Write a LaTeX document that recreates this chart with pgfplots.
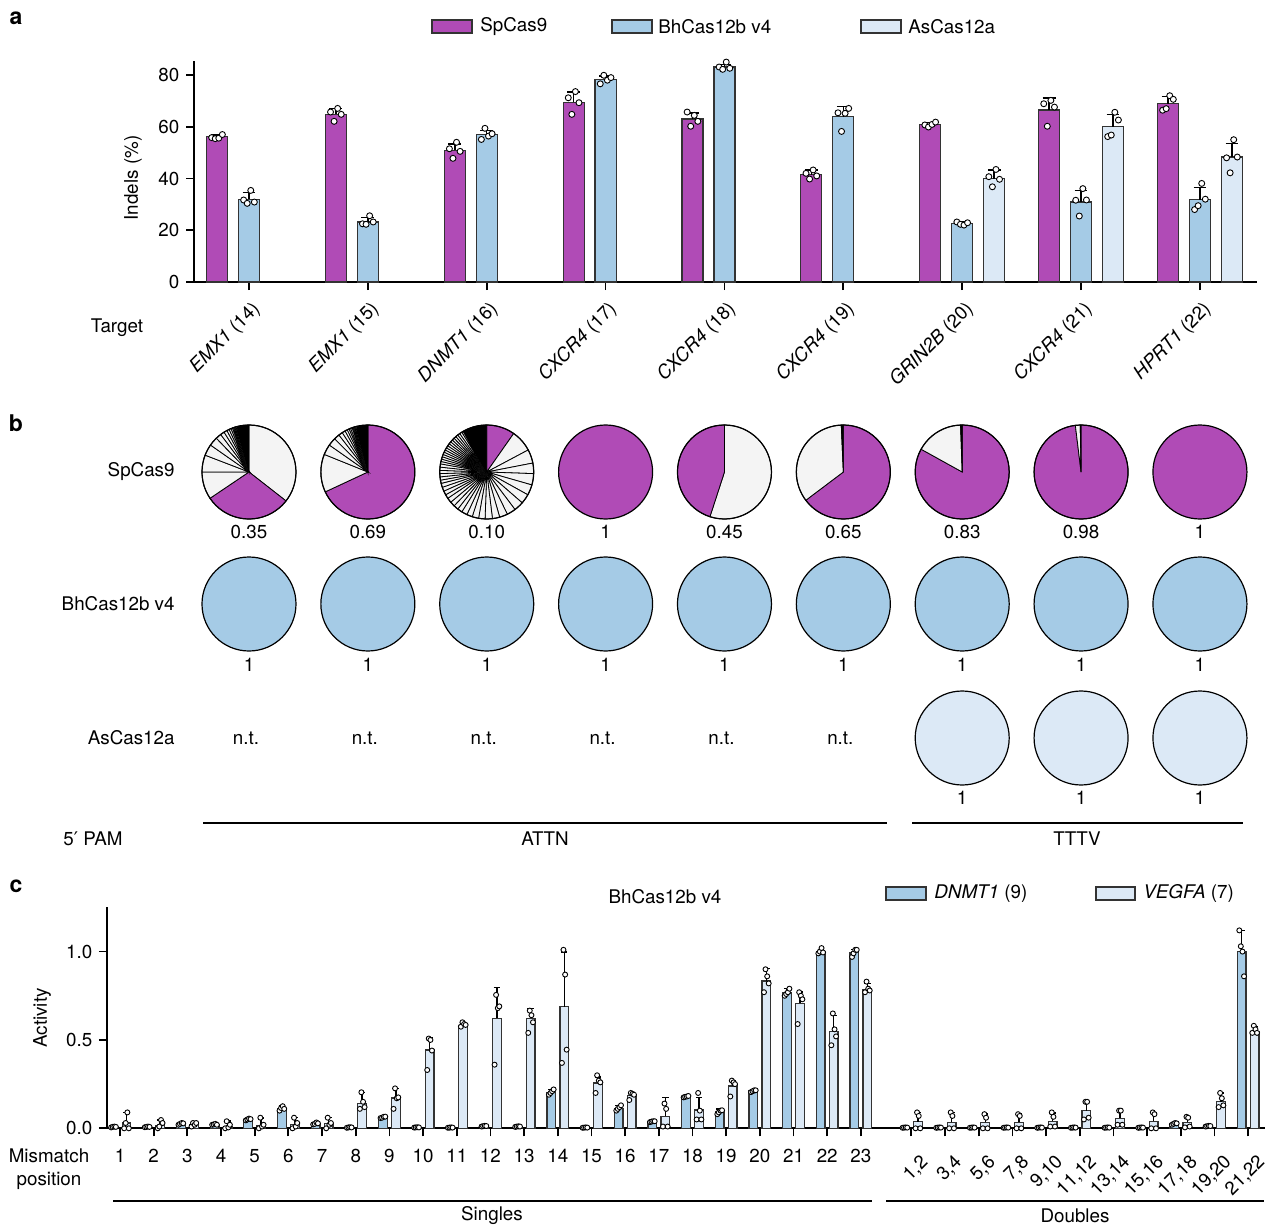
\documentclass[border=0pt]{standalone}
\usepackage{fontspec}
\setmainfont{TeX Gyre Heros}
\newfontfamily\djv{DejaVu Sans}
\usepackage{pgfplots}
\pgfplotsset{compat=1.18}
\usepackage{pgfplotstable}

\definecolor{magc}{HTML}{B04BB6}
\definecolor{bluec}{HTML}{A5CBE6}
\definecolor{lightc}{HTML}{DCE9F6}
\definecolor{greyc}{HTML}{F4F4F4}

% ---------- panel a data ----------
\pgfplotstableread{
g S Se B Be
0 56.2 0.6 32.0 2.5
1 64.8 2.3 23.2 1.7
2 50.9 2.4 57.1 1.5
3 69.4 4.0 78.2 1.4
4 63.0 2.4 83.1 1.0
5 41.4 1.8 63.9 3.9
6 60.9 0.7 22.7 0.5
7 66.5 4.6 30.9 4.5
8 68.9 2.8 31.8 4.7
}\tabA
\pgfplotstableread{
g A Ae
6 39.9 3.4
7 60.0 4.8
8 48.3 5.3
}\tabAs
\pgfplotstableread{
g v1 v2 v3 v4
0 55.8 55.4 55.6 57.0
1 65.7 62.1 67.1 64.8
2 51.5 47.8 54.0 50.5
3 71.2 64.8 73.6 69.3
4 65.7 60.2 64.4 62.1
5 42.0 39.8 43.3 41.0
6 60.7 59.9 60.9 61.8
7 68.9 60.2 70.2 67.6
8 66.4 67.0 72.0 70.6
}\dotS
\pgfplotstableread{
g v1 v2 v3 v4
0 31.7 30.4 35.4 30.9
1 22.5 22.3 25.6 23.2
2 55.1 59.4 56.4 57.3
3 76.6 79.9 78.0 79.0
4 83.1 82.2 85.0 82.6
5 65.4 58.2 65.2 67.1
6 23.2 22.3 22.0 22.9
7 31.6 25.5 36.1 31.7
8 28.0 29.5 38.1 32.0
}\dotB
\pgfplotstableread{
g v1 v2 v3 v4
6 40.7 36.8 43.5 39.7
7 56.2 56.8 65.6 62.6
8 48.0 42.2 55.0 48.3
}\dotA

% ---------- panel c data ----------
\pgfplotstableread{
x D De V Ve
1 0.008 0.003 0.030 0.060
2 0.008 0.003 0.015 0.032
3 0.025 0.005 0.022 0.010
4 0.022 0.005 0.012 0.030
5 0.050 0.006 0.017 0.040
6 0.113 0.015 0.022 0.040
7 0.027 0.006 0.025 0.035
8 0.005 0.002 0.141 0.063
9 0.062 0.005 0.171 0.055
10 0.005 0.002 0.443 0.070
11 0.004 0.002 0.579 0.019
12 0.012 0.003 0.623 0.175
13 0.010 0.002 0.623 0.056
14 0.204 0.015 0.688 0.310
15 0.004 0.002 0.256 0.034
16 0.113 0.017 0.185 0.015
17 0.038 0.004 0.068 0.107
18 0.179 0.006 0.104 0.071
19 0.092 0.016 0.239 0.029
20 0.211 0.006 0.834 0.069
21 0.766 0.024 0.707 0.063
22 1.000 0.012 0.549 0.088
23 0.994 0.018 0.783 0.037
24.5 0.004 0.001 0.037 0.053
25.5 0.004 0.001 0.034 0.056
26.5 0.005 0.001 0.034 0.046
27.5 0.004 0.001 0.034 0.046
28.5 0.004 0.001 0.040 0.048
29.5 0.004 0.001 0.100 0.052
30.5 0.004 0.001 0.057 0.043
31.5 0.004 0.001 0.040 0.050
32.5 0.025 0.004 0.034 0.031
33.5 0.012 0.002 0.150 0.050
34.5 1.000 0.120 0.547 0.028
}\tabC
\pgfplotstableread{
x v1 v2 v3 v4
1 0.005 0.008 0.010 0.008
2 0.006 0.008 0.010 0.008
3 0.020 0.025 0.030 0.028
4 0.020 0.022 0.025 0.020
5 0.045 0.050 0.055 0.052
6 0.100 0.115 0.125 0.110
7 0.022 0.025 0.033 0.028
8 0.003 0.005 0.006 0.005
9 0.058 0.060 0.065 0.066
10 0.004 0.005 0.006 0.005
11 0.003 0.004 0.005 0.004
12 0.010 0.012 0.014 0.013
13 0.008 0.010 0.011 0.010
14 0.190 0.200 0.210 0.220
15 0.003 0.004 0.005 0.004
16 0.100 0.110 0.120 0.130
17 0.035 0.038 0.040 0.040
18 0.175 0.178 0.180 0.183
19 0.080 0.090 0.100 0.102
20 0.205 0.210 0.215 0.215
21 0.750 0.760 0.770 0.790
22 0.990 1.000 1.020 0.995
23 0.970 0.990 1.010 1.010
24.5 0.003 0.004 0.005 0.004
25.5 0.003 0.004 0.005 0.004
26.5 0.003 0.004 0.005 0.004
27.5 0.003 0.004 0.005 0.004
28.5 0.003 0.004 0.005 0.004
29.5 0.003 0.004 0.005 0.004
30.5 0.003 0.004 0.005 0.004
31.5 0.003 0.004 0.005 0.004
32.5 0.020 0.025 0.030 0.028
33.5 0.010 0.012 0.014 0.013
34.5 1.120 1.030 1.000 0.860
}\dotD
\pgfplotstableread{
x v1 v2 v3 v4
1 0.000 0.030 0.090 0.000
2 0.000 0.010 0.047 0.030
3 0.010 0.030 0.020 0.030
4 0.000 0.040 0.005 0.020
5 0.000 0.060 0.010 0.020
6 0.000 0.060 0.010 0.030
7 0.000 0.060 0.020 0.030
8 0.110 0.204 0.150 0.120
9 0.110 0.226 0.170 0.175
10 0.330 0.508 0.500 0.440
11 0.575 0.600 0.590 0.585
12 0.360 0.755 0.680 0.690
13 0.540 0.666 0.640 0.600
14 0.370 1.010 0.870 0.445
15 0.200 0.300 0.270 0.260
16 0.160 0.200 0.195 0.190
17 0.010 0.140 0.110 0.010
18 0.050 0.200 0.100 0.050
19 0.180 0.270 0.260 0.250
20 0.770 0.900 0.860 0.820
21 0.590 0.770 0.750 0.730
22 0.470 0.650 0.560 0.520
23 0.770 0.830 0.790 0.780
24.5 0.000 0.090 0.070 0.000
25.5 0.000 0.090 0.070 0.000
26.5 0.000 0.080 0.060 0.000
27.5 0.000 0.080 0.070 0.000
28.5 0.010 0.090 0.065 0.010
29.5 0.050 0.150 0.150 0.060
30.5 0.020 0.100 0.100 0.020
31.5 0.000 0.090 0.080 0.000
32.5 0.005 0.065 0.060 0.010
33.5 0.120 0.200 0.170 0.130
34.5 0.540 0.580 0.560 0.540
}\dotV

\pgfplotsset{
  barbase/.style={ybar, bar shift=0, line width=0.6pt, draw=black!80,
    error bars/y dir=plus, error bars/y explicit,
    error bars/error bar style={line width=0.75pt, black, solid},
    error bars/error mark options={rotate=90, line width=0.75pt, black, mark size=#1}},
  dotmk/.style={only marks, mark=*, mark size=#1,
    mark options={fill=white, draw=black, line width=0.45pt, solid}},
  panelax/.style={scale only axis, anchor=south west, axis lines=left,
    axis line style={-, line width=0.9pt, black},
    tick style={line width=0.9pt, black},
    tick align=outside, major tick length=4pt, clip=false,
    /pgf/number format/assume math mode=true},
}

\newcommand\R{23.5pt}
\newcommand\slices[4]{%
  \foreach \b [remember=\b as \a (initially #2)] in {#3} {
    \filldraw[fill=#4, draw=black, line width=0.4pt] (#1) -- ++({90-\a}:\R)
      arc[start angle={90-\a}, end angle={90-\b}, radius=\R] -- cycle;
  }}

\begin{document}
\fontsize{9.4pt}{11.3pt}\selectfont
\begin{tikzpicture}
\useasboundingbox (0,0) rectangle (633pt,-613pt);

% ================= panel a =================
\begin{axis}[panelax,
  at={(97pt,-141pt)}, width=531.5pt, height=110.6pt,
  xmin=-0.4626, xmax=8.48, ymin=0, ymax=85.5,
  ytick={0,20,40,60,80},
  xtick={0,...,8},
  xticklabels={{\textit{EMX1} (14)},{\textit{EMX1} (15)},{\textit{DNMT1} (16)},{\textit{CXCR4} (17)},{\textit{CXCR4} (18)},{\textit{CXCR4} (19)},{\textit{GRIN2B} (20)},{\textit{CXCR4} (21)},{\textit{HPRT1} (22)}},
  xticklabel style={rotate=45, anchor=east, xshift=0.3pt, yshift=-8.7pt},
]
\addplot[barbase=3.2pt, fill=magc, bar width=0.177] table[x expr=\thisrow{g}-0.269, y=S, y error=Se] {\tabA};
\addplot[barbase=3.2pt, fill=bluec, bar width=0.177] table[x=g, y=B, y error=Be] {\tabA};
\addplot[barbase=3.2pt, fill=lightc, bar width=0.177] table[x expr=\thisrow{g}+0.269, y=A, y error=Ae] {\tabAs};
\addplot[dotmk=1.5pt] table[x expr=\thisrow{g}-0.269-0.045, y=v1] {\dotS};
\addplot[dotmk=1.5pt] table[x expr=\thisrow{g}-0.269-0.015, y=v2] {\dotS};
\addplot[dotmk=1.5pt] table[x expr=\thisrow{g}-0.269+0.015, y=v3] {\dotS};
\addplot[dotmk=1.5pt] table[x expr=\thisrow{g}-0.269+0.045, y=v4] {\dotS};
\addplot[dotmk=1.5pt] table[x expr=\thisrow{g}-0.045, y=v1] {\dotB};
\addplot[dotmk=1.5pt] table[x expr=\thisrow{g}-0.015, y=v2] {\dotB};
\addplot[dotmk=1.5pt] table[x expr=\thisrow{g}+0.015, y=v3] {\dotB};
\addplot[dotmk=1.5pt] table[x expr=\thisrow{g}+0.045, y=v4] {\dotB};
\addplot[dotmk=1.5pt] table[x expr=\thisrow{g}+0.269-0.045, y=v1] {\dotA};
\addplot[dotmk=1.5pt] table[x expr=\thisrow{g}+0.269-0.015, y=v2] {\dotA};
\addplot[dotmk=1.5pt] table[x expr=\thisrow{g}+0.269+0.015, y=v3] {\dotA};
\addplot[dotmk=1.5pt] table[x expr=\thisrow{g}+0.269+0.045, y=v4] {\dotA};
\end{axis}

% ================= panel b (positions) =================
\begin{axis}[scale only axis, anchor=south west, hide axis, clip=false,
  at={(97pt,-425pt)}, width=531.5pt, height=225pt,
  xmin=-0.4626, xmax=8.48, ymin=-850, ymax=-400]
\pgfplotsinvokeforeach{0,...,8}{
  \coordinate (ra#1) at (axis cs:#1,-472);
  \coordinate (rb#1) at (axis cs:#1,-604);
  \coordinate (rc#1) at (axis cs:#1,-738);
}
\end{axis}

% SpCas9 pies
\slices{ra0}{0}{128}{greyc}
\slices{ra0}{128}{236}{magc}
\slices{ra0}{236}{270,291,305,316,323,328,332,335,337.5,339.5,341,342.5,344,345.5}{greyc}
\slices{ra0}{345.5}{360}{black}
\slices{ra1}{0}{245}{magc}
\slices{ra1}{245}{292,305,315,322,327,331,334,336.5,338.5,340.5,342,343.5,345,346.5}{greyc}
\slices{ra1}{346.5}{360}{black}
\slices{ra2}{0}{35}{magc}
\slices{ra2}{35}{62,79,92,106,119,131,143,154,164,173,182,190,198,205,212,218,224,230,236,241,246,251,256,260,264,268,272,276,280,283,286,289,292,295,298,301,304,307,310,313,316,319,322,325,328,330}{greyc}
\slices{ra2}{330}{360}{black}
\filldraw[fill=magc, draw=black, line width=0.6pt] (ra3) circle[radius=\R];
\slices{ra4}{0}{198}{greyc}
\slices{ra4}{198}{360}{magc}
\slices{ra5}{0}{233}{magc}
\slices{ra5}{233}{357.5}{greyc}
\slices{ra5}{357.5}{360}{black}
\slices{ra6}{0}{299}{magc}
\slices{ra6}{299}{358}{greyc}
\slices{ra6}{358}{360}{black}
\slices{ra7}{0}{353}{magc}
\slices{ra7}{353}{359}{greyc}
\slices{ra7}{359}{360}{black}
\filldraw[fill=magc, draw=black, line width=0.6pt] (ra8) circle[radius=\R];
\foreach \i in {0,1,2,4,5,6,7}{\draw[line width=0.6pt] (ra\i) circle[radius=\R];}
% BhCas12b v4 and AsCas12a pies
\foreach \i in {0,...,8}{\filldraw[fill=bluec, draw=black, line width=0.6pt] (rb\i) circle[radius=\R];}
\foreach \i in {6,7,8}{\filldraw[fill=lightc, draw=black, line width=0.6pt] (rc\i) circle[radius=\R];}
% pie labels
\foreach \i/\t in {0/0.35,1/0.69,2/0.10,3/1,4/0.45,5/0.65,6/0.83,7/0.98,8/1}{
  \node at ([yshift=-30pt]ra\i) {\t};}
\foreach \i in {0,...,8}{\node at ([yshift=-30.5pt]rb\i) {1};}
\foreach \i in {6,7,8}{\node at ([yshift=-30pt]rc\i) {1};}
\foreach \i in {0,...,5}{\node at ([xshift=-1.5pt]rc\i) {n.t.};}

% ================= panel c =================
\begin{axis}[panelax,
  at={(53.5pt,-564.15pt)}, width=579pt, height=110.8pt,
  xmin=0.614, xmax=35.0, ymin=0, ymax=1.254,
  ytick={0,0.5,1},
  yticklabel style={/pgf/number format/.cd, fixed, fixed zerofill, precision=1},
  xtick={1,...,23},
  xticklabel style={yshift=-3pt},
  extra x ticks={24.5,25.5,26.5,27.5,28.5,29.5,30.5,31.5,32.5,33.5,34.5},
  extra x tick labels={{1,2},{3,4},{5,6},{7,8},{9,10},{11,12},{13,14},{15,16},{17,18},{19,20},{21,22}},
  extra x tick style={xticklabel style={rotate=45, anchor=east, xshift=2.2pt, yshift=-10.8pt}},
]
\addplot[barbase=1.6pt, fill=bluec, bar width=0.26] table[x expr=\thisrow{x}-0.193, y=D, y error=De] {\tabC};
\addplot[barbase=1.6pt, fill=lightc, bar width=0.26] table[x expr=\thisrow{x}+0.193, y=V, y error=Ve] {\tabC};
\addplot[dotmk=1.25pt] table[x expr=\thisrow{x}-0.193-0.07, y=v1] {\dotD};
\addplot[dotmk=1.25pt] table[x expr=\thisrow{x}-0.193-0.025, y=v2] {\dotD};
\addplot[dotmk=1.25pt] table[x expr=\thisrow{x}-0.193+0.025, y=v3] {\dotD};
\addplot[dotmk=1.25pt] table[x expr=\thisrow{x}-0.193+0.07, y=v4] {\dotD};
\addplot[dotmk=1.25pt] table[x expr=\thisrow{x}+0.193-0.07, y=v1] {\dotV};
\addplot[dotmk=1.25pt] table[x expr=\thisrow{x}+0.193-0.025, y=v2] {\dotV};
\addplot[dotmk=1.25pt] table[x expr=\thisrow{x}+0.193+0.025, y=v3] {\dotV};
\addplot[dotmk=1.25pt] table[x expr=\thisrow{x}+0.193+0.07, y=v4] {\dotV};
\end{axis}

% ================= text in pixel coordinates =================
\begin{scope}[x=0.5pt, y=-0.5pt]
  \node[font=\fontsize{11.5pt}{13pt}\selectfont\bfseries] at (16,18) {a};
  \node[font=\fontsize{11.5pt}{13pt}\selectfont\bfseries] at (16,423) {b};
  \node[font=\fontsize{11.5pt}{13pt}\selectfont\bfseries] at (16,886) {c};
  % legend a
  \filldraw[fill=magc, draw=black!80, line width=0.6pt] (432,20) rectangle (472,33);
  \node[anchor=west, inner sep=0pt] at (480,26.5) {SpCas9};
  \filldraw[fill=bluec, draw=black!80, line width=0.6pt] (612,20) rectangle (652,33);
  \node[anchor=west, inner sep=0pt] at (658,26.5) {BhCas12b v4};
  \filldraw[fill=lightc, draw=black!80, line width=0.6pt] (861,20) rectangle (901,33);
  \node[anchor=west, inner sep=0pt] at (908,26.5) {AsCas12a};
  \node[rotate=90] at (133,178) {Indels (\%)};
  \node at (117,328) {Target};
  % panel b labels
  \node[anchor=east, inner sep=0pt] at (175,472) {SpCas9};
  \node[anchor=east, inner sep=0pt] at (175,604) {BhCas12b v4};
  \node[anchor=east, inner sep=0pt] at (175,738) {AsCas12a};
  \draw[line width=0.75pt] (203,823) -- (887,823);
  \draw[line width=0.75pt] (912,823) -- (1243,823);
  \node at (93,839) {5{\djv ′} PAM};
  \node at (545,839) {ATTN};
  \node at (1077,839) {TTTV};
  % panel c labels
  \node at (665,897) {BhCas12b v4};
  \filldraw[fill=bluec, draw=black!80, line width=0.6pt] (886,887) rectangle (926,900);
  \node[anchor=west, inner sep=0pt] at (934,893.5) {\textit{DNMT1} (9)};
  \filldraw[fill=lightc, draw=black!80, line width=0.6pt] (1096,887) rectangle (1135,900);
  \node[anchor=west, inner sep=0pt] at (1143,893.5) {\textit{VEGFA} (7)};
  \node[rotate=90] at (42,1018) {Activity};
  \node[align=center, inner sep=0pt] at (49,1169) {Mismatch\\position};
  \draw[line width=0.75pt] (113,1201) -- (872,1201);
  \draw[line width=0.75pt] (886,1201) -- (1264,1201);
  \node at (492,1216) {Singles};
  \node at (1075,1216) {Doubles};
\end{scope}
\end{tikzpicture}
\end{document}
